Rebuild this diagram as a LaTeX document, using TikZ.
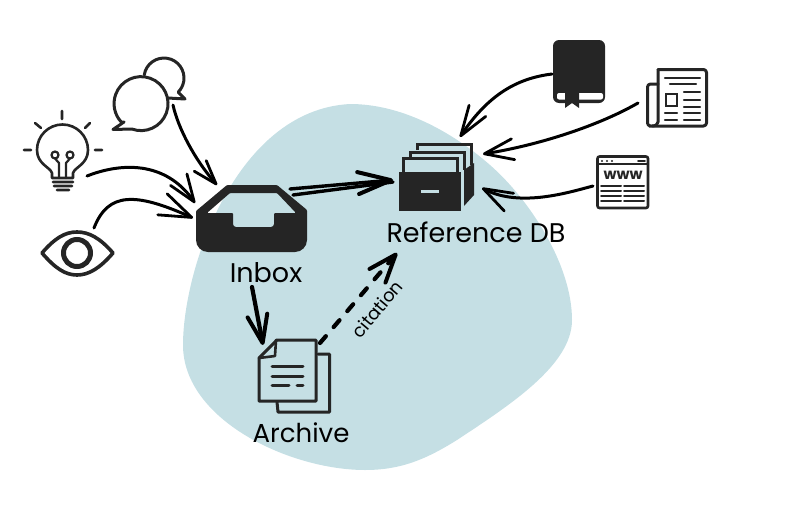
\documentclass[tikz,border=0pt]{standalone}
\usepackage{fontspec}
\setmainfont{Poppins}
\usetikzlibrary{arrows.meta}
\definecolor{blob}{HTML}{C5DFE4}
\definecolor{ink}{HTML}{252525}
\tikzset{
  x=1pt,y=-1pt,
  iconbox/.style={minimum width=#1,inner sep=0pt,outer sep=0pt},
  conn/.style={black,line width=3pt,line cap=round,line join=round},
  barb/.style 2 args={-{Straight Barb[length=#1,width=#2,line width=2.8pt,round]}},
  hbarb/.style 2 args={-{Straight Barb[length=#1,width=#2,line width=4pt,round]}},
  heavy/.style={line width=4.2pt},
  ico/.style={ink,line width=3pt,line cap=round,line join=round},
  icofill/.style={fill=ink,draw=none},
  lab/.style={inner sep=0pt,font=\fontsize{27}{29}\selectfont,text=black}
}
\begin{document}
\begin{tikzpicture}
\useasboundingbox (0,0) rectangle (798,506);
% background shape
\fill[blob] (350,104) .. controls (400,104) and (450,130) .. (490,165)
  .. controls (530,200) and (572,265) .. (572,320)
  .. controls (572,365) and (510,405) .. (457,440)
  .. controls (425,460) and (400,470) .. (365,470)
  .. controls (290,470) and (183,420) .. (183,345)
  .. controls (183,270) and (235,110) .. (350,104) -- cycle;
% anchors for the icons
\node[iconbox=80pt,minimum height=80pt] (bulb) at (63,150) {};
\node[iconbox=74pt,minimum height=74pt] (chat) at (149,94) {};
\node[iconbox=75pt,minimum height=47pt] (eye) at (77,253) {};
\node[iconbox=111pt,minimum height=67pt] (inbox) at (252,218) {};
\node[iconbox=75pt,minimum height=68pt] (db) at (436,177) {};
\node[iconbox=73pt,minimum height=75pt] (archive) at (294,376) {};
\node[iconbox=52pt,minimum height=67pt] (book) at (579,74) {};
\node[iconbox=62pt,minimum height=59pt] (news) at (677,98) {};
\node[iconbox=53pt,minimum height=53pt] (web) at (622,182) {};
% bulb
\draw[ico,line width=2.6pt] (52,178) -- (52,173) .. controls (50,167) and (37,164) .. (37,150)
  arc[start angle=180,end angle=360,radius=25.5]
  .. controls (88,164) and (75,167) .. (73,173) -- (73,178) -- cycle;
\draw[ico,line width=2.6pt] (62,111)--(62,119) (35,123)--(41,128) (90,123)--(85,128) (24,150)--(31,150) (95,150)--(102,150)
  (53,182)--(73,182) (54,186)--(72,186) (57,190)--(69,190);
\draw[ico,line width=2.2pt] (55,155) circle[radius=3.5] (70,155) circle[radius=3.5]
  (55,158.5) -- (59,163) -- (59,178) (70,158.5) -- (66,163) -- (66,178);
% chat
\draw[ico] (144.25,74.9) arc[start angle=189,end angle=405,radius=20] -- (185,99) -- (168,98);
\draw[ico] (131.8,129) arc[start angle=110,end angle=-223,radius=27] -- (124,122) -- (113,129.5) -- cycle;
% eye
\draw[ico,line width=3.6pt] (42,253) .. controls (55,238) and (65,232) .. (77,232) .. controls (89,232) and (100,238) .. (113,253)
  .. controls (100,268) and (89,275) .. (77,275) .. controls (65,275) and (55,268) .. (42,253) -- cycle;
\draw[ink,line width=5pt] (77,253) circle[radius=13.5];
% inbox
\fill[ink,even odd rule,rounded corners=1pt] (227,185) -- (277,185) -- (307,210)
  {[rounded corners=12pt] -- (307,252) -- (196,252)} -- (196,211) -- cycle
  (207,213) -- (230,193) -- (277,193) -- (296,213) -- (274,213)
  {[rounded corners=3pt] -- (274,227) -- (233,227)} -- (233,213) -- cycle;
% reference db
\fill[ink] (399,172) rectangle (461,211);
\fill[blob] (421,189.5) rectangle (439,192.5);
\fill[ink] (464,170) -- (474,163) -- (474,195) -- (464,206) -- cycle;
\draw[ink,line width=3pt,line join=miter] (403,172)--(403,158)--(457,158)--(457,172)
  (410,157)--(410,152)--(464,152)--(464,170)
  (417,150)--(417,144)--(471,144)--(471,165);
% archive
\draw[ico] (277,340) -- (316,340) -- (316,401) -- (259,401) -- (259,358) -- cycle;
\draw[ico,line width=2.6pt] (259,358) -- (275,356) -- (276,340);
\draw[ico] (318,354) -- (329.5,354) -- (329.5,412) -- (278,412) -- (277,402);
\draw[ico] (272,366)--(303,366) (272,376)--(303,376) (272,385)--(289,385) (297,385)--(303,385);
% book
\fill[ink,rounded corners=6pt] (553,40) rectangle (605,103);
\fill[white,rounded corners=2pt] (557,93) rectangle (603,99.5);
\fill[ink] (565,93) -- (579,93) -- (579,108) -- (572,103) -- (565,108) -- cycle;
% newspaper
\draw[ico,rounded corners=3pt] (658,69.5) -- (706.5,69.5) -- (706.5,126) -- (652,126)
   -- (647.5,126) -- (647.5,84) -- (658,84);
\draw[ico] (658,69.5) -- (658,122) .. controls (658,124) and (656,126) .. (652,126);
\draw[ico,line width=2.4pt] (665,78)--(700,78) (670,84)--(696,84)
  (684,92)--(700,92) (684,100)--(700,100) (684,107)--(700,107)
  (665,113)--(677,113) (684,113)--(700,113) (665,120)--(677,120) (684,120)--(700,120);
\draw[ink,line width=2.6pt] (666,94) rectangle (677,106);
% web
\draw[ico,line width=2.6pt,rounded corners=2pt] (597.5,156.5) rectangle (648,208);
\draw[ico,line width=2.2pt] (597.5,164) -- (648,164);
\fill[ink] (602,161) circle[radius=1.2] (607,161) circle[radius=1.2] (612,161) circle[radius=1.2];
\draw[ico,line width=1.6pt] (638,161) -- (645,161);
\node[inner sep=0pt,text=ink,font=\fontsize{15}{16}\selectfont\bfseries] at (623,175) {www};
\draw[ico,line width=2pt] (601,186)--(621,186) (624,186)--(644,186) (601,191)--(621,191) (624,191)--(644,191)
  (601,196)--(621,196) (624,196)--(644,196) (601,200.5)--(621,200.5) (624,200.5)--(644,200.5);
% labels
\node[lab] (lbdb) at (476,232) {Reference DB};
\node[lab] (lbinbox) at (266,273) {Inbox};
\node[lab,font=\fontsize{26}{28}\selectfont] (lbarch) at (301,433) {Archive};
\node[inner sep=0pt,rotate=50,text=black,font=\fontsize{18}{20}\selectfont] (lbcite) at (377,309) {citation};
% connectors
\draw[conn,barb={24pt}{16pt}] ([shift={(24,11)}]chat.center) .. controls (178,128) and (195,160) .. ([shift={(-35,-33)}]inbox.center);
\draw[conn,barb={27pt}{20pt}] ([shift={(24,26)}]bulb.center) .. controls (120,163) and (165,160) .. ([shift={(-57,-15)}]inbox.center);
\draw[conn,barb={32pt}{23pt}] ([shift={(17,-25)}]eye.center) .. controls (108,192) and (135,192) .. ([shift={(-59,0)}]inbox.center);
\draw[conn,line width=3.4pt,hbarb={33pt}{22pt}] ([shift={(38,-29)}]inbox.center) -- ([shift={(-43,3)}]db.center);
\draw[conn,line width=3.4pt] ([shift={(41,-23)}]inbox.center) -- ([shift={(-43,5)}]db.center);
\draw[conn,heavy,hbarb={28pt}{20pt}] ([shift={(0,69)}]inbox.center) -- ([shift={(-31,-31)}]archive.center);
\draw[conn,heavy,dash pattern=on 9pt off 12pt,hbarb={28pt}{21pt}] ([shift={(26,-33)}]archive.center) -- ([shift={(-39,76)}]db.center);
\draw[conn,barb={30pt}{20pt}] ([shift={(-27,0)}]book.center) .. controls (520,78) and (490,92) .. ([shift={(24,-40)}]db.center);
\draw[conn,barb={29pt}{21pt}] ([shift={(-39,5)}]news.center) .. controls (600,125) and (540,145) .. ([shift={(47,-23)}]db.center);
\draw[conn,barb={29pt}{20pt}] ([shift={(-29,4)}]web.center) .. controls (570,192) and (520,208) .. ([shift={(46,11)}]db.center);
\end{tikzpicture}
\end{document}
